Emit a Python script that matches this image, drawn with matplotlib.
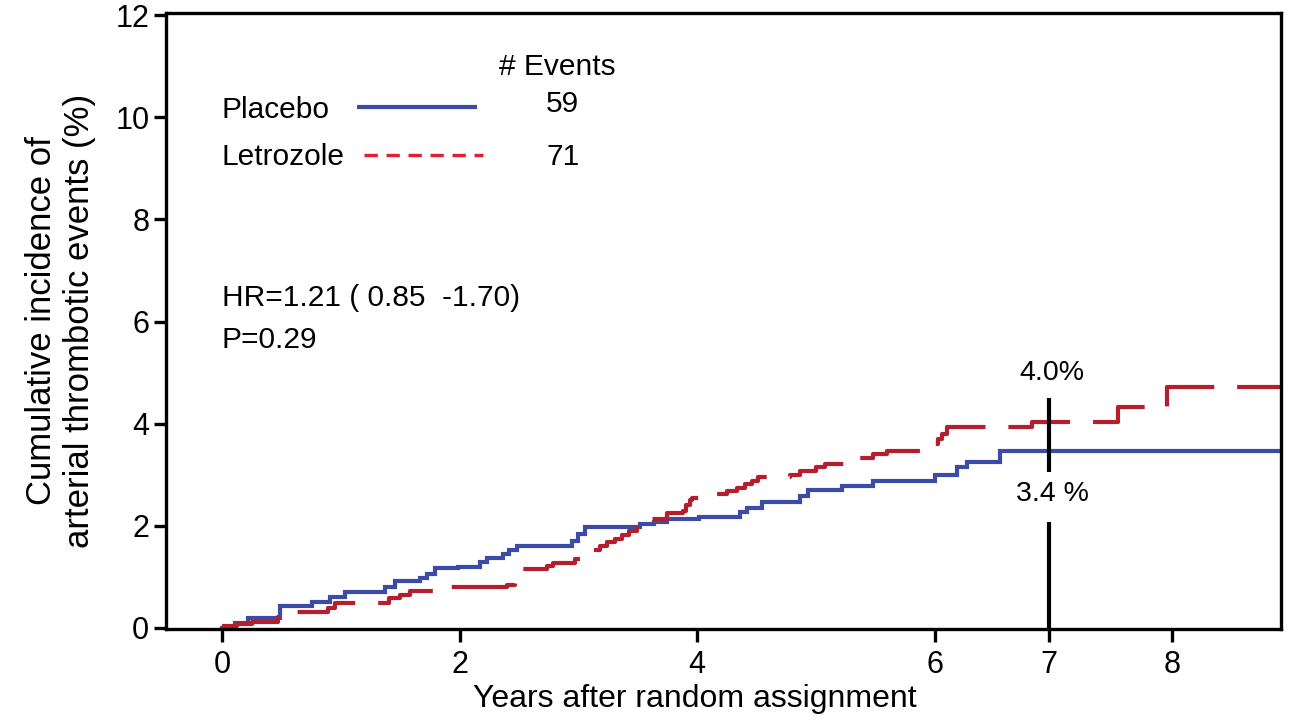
import matplotlib
matplotlib.use('Agg')
import matplotlib.pyplot as plt

plt.rcParams['font.family'] = ['Liberation Sans', 'DejaVu Sans']

# step curves (years, cumulative incidence %)
placebo_t = [0.0, 0.11, 0.22, 0.49, 0.76, 0.91, 1.04, 1.37, 1.46, 1.67, 1.73, 1.79,
             1.99, 2.17, 2.23, 2.37, 2.42, 2.48, 2.95, 3.0, 3.06, 3.52, 3.64, 3.75,
             4.02, 4.36, 4.42, 4.55, 4.87, 4.93, 5.22, 5.48, 6.0, 6.19, 6.27, 6.55, 8.92]
placebo_y = [0.0, 0.1, 0.2, 0.43, 0.5, 0.6, 0.7, 0.8, 0.92, 0.97, 1.05, 1.17,
             1.2, 1.3, 1.37, 1.45, 1.52, 1.6, 1.7, 1.85, 1.98, 2.03, 2.08, 2.13,
             2.17, 2.27, 2.35, 2.47, 2.58, 2.7, 2.78, 2.88, 3.0, 3.15, 3.25, 3.46, 3.46]

letrozole_t = [0.0, 0.13, 0.25, 0.47, 0.53, 0.89, 0.95, 1.41, 1.5, 1.58, 1.84, 2.4,
               2.47, 2.74, 2.79, 2.97, 3.1, 3.18, 3.24, 3.31, 3.37, 3.43, 3.49, 3.56,
               3.75, 3.88, 3.91, 3.94, 3.96, 4.07, 4.25, 4.34, 4.4, 4.46, 4.51, 4.78,
               4.87, 5.0, 5.08, 5.29, 5.48, 5.6, 6.0, 6.03, 6.06, 6.1, 6.82, 7.54,
               7.96, 8.92]
letrozole_y = [0.04, 0.08, 0.12, 0.22, 0.31, 0.4, 0.48, 0.58, 0.65, 0.72, 0.8, 0.85,
               1.15, 1.22, 1.28, 1.35, 1.52, 1.6, 1.68, 1.75, 1.82, 1.9, 1.95, 2.13,
               2.25, 2.3, 2.4, 2.5, 2.55, 2.62, 2.68, 2.75, 2.82, 2.88, 2.95, 3.0,
               3.07, 3.15, 3.22, 3.32, 3.4, 3.46, 3.6, 3.7, 3.8, 3.93, 4.03, 4.33,
               4.72, 4.72]

groups = ['Placebo', 'Letrozole']
n_events = [59, 71]
hr_text = 'HR=1.21 ( 0.85  -1.70)'
p_text = 'P=0.29'
mark_year = 6.96
mark_labels = ['4.0%', '3.4 %']

x_ticks = [0, 2, 4, 6, 6.96, 8]
x_labels = ['0', '2', '4', '6', '7', '8']
y_ticks = [0, 2, 4, 6, 8, 10, 12]

blue = '#3c4ca6'
red = '#b41e2d'
red_key = '#e4202e'

fig = plt.figure(figsize=(12.95, 7.25), dpi=100)
ax = fig.add_axes([0.1282, 0.1324, 0.8608, 0.8496])

ax.step(placebo_t, placebo_y, where='post', color=blue, lw=3.0, solid_joinstyle='miter')
ax.step(letrozole_t, letrozole_y, where='post', color=red, lw=3.0,
        dashes=(16, 5.5), dash_capstyle='butt')

# vertical marker at 7 years, broken behind the lower label
ax.plot([mark_year, mark_year], [-0.05, 2.07], color='black', lw=3.0, solid_capstyle='butt')
ax.plot([mark_year, mark_year], [3.05, 4.5], color='black', lw=3.0, solid_capstyle='butt')
ax.text(mark_year + 0.03, 5.0, mark_labels[0], ha='center', va='center', fontsize=20.5)
ax.text(mark_year + 0.03, 2.62, mark_labels[1], ha='center', va='center', fontsize=20.5)

# legend drawn by hand: name, line key, event count
fs = 21.5
ax.text(2.82, 10.98, '# Events', ha='center', va='center', fontsize=fs)
key_y = [10.2, 9.26]
ax.text(0.0, 10.14, groups[0], ha='left', va='center', fontsize=fs)
ax.text(0.0, 9.22, groups[1], ha='left', va='center', fontsize=fs)
ax.plot([1.14, 2.15], [key_y[0]] * 2, color=blue, lw=3.0, solid_capstyle='butt')
ax.plot([1.2, 2.2], [key_y[1]] * 2, color=red_key, lw=2.4, dashes=(4, 2.6),
        dash_capstyle='butt')
ax.text(2.87, 10.25, str(n_events[0]), ha='center', va='center', fontsize=fs)
ax.text(2.87, 9.22, str(n_events[1]), ha='center', va='center', fontsize=fs)

ax.text(0.0, 6.46, hr_text, ha='left', va='center', fontsize=fs)
ax.text(0.0, 5.64, p_text, ha='left', va='center', fontsize=fs)

ax.set_xlim(-0.471, 8.914)
ax.set_ylim(-0.02, 12.04)
ax.set_xticks(x_ticks)
ax.set_xticklabels(x_labels)
ax.set_yticks(y_ticks)
ax.tick_params(direction='out', length=9, width=2.4, labelsize=22)
ax.tick_params(axis='x', pad=6)
ax.tick_params(axis='y', pad=3)
for s in ax.spines.values():
    s.set_linewidth(2.4)

ax.set_xlabel('Years after random assignment', fontsize=23, labelpad=0)
ax.xaxis.set_label_coords(0.474, -0.09)
ax.set_ylabel('Cumulative incidence of\narterial thrombotic events (%)', fontsize=25,
              linespacing=1.2)
ax.yaxis.set_label_coords(-0.063, 0.5)

fig.savefig('out.png', dpi=100)
